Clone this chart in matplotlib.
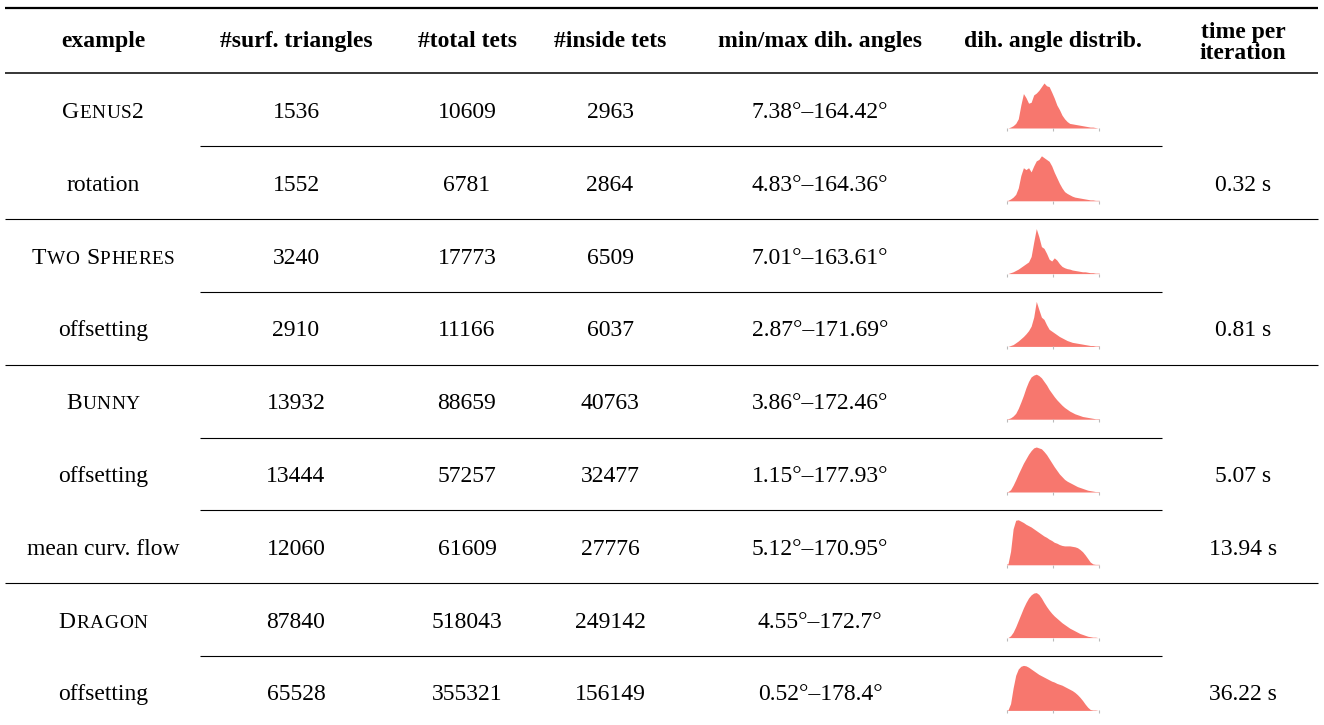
import matplotlib.pyplot as plt
from matplotlib.offsetbox import TextArea, HPacker, AnnotationBbox
import numpy as np

plt.rcParams['font.family'] = ['Liberation Serif', 'DejaVu Serif']

# table data
headers = ['example', '#surf. triangles', '#total tets', '#inside tets',
           'min/max dih. angles', 'dih. angle distrib.', 'time per\niteration']
# (text, small caps?) for the example column
examples = [('Genus2', True), ('rotation', False), ('Two Spheres', True),
            ('offsetting', False), ('Bunny', True), ('offsetting', False),
            ('mean curv. flow', False), ('Dragon', True), ('offsetting', False)]
surf_tris = [1536, 1552, 3240, 2910, 13932, 13444, 12060, 87840, 65528]
total_tets = [10609, 6781, 17773, 11166, 88659, 57257, 61609, 518043, 355321]
inside_tets = [2963, 2864, 6509, 6037, 40763, 32477, 27776, 249142, 156149]
min_angle = [7.38, 4.83, 7.01, 2.87, 3.86, 1.15, 5.12, 4.55, 0.52]
max_angle = [164.42, 164.36, 163.61, 171.69, 172.46, 177.93, 170.95, 172.7, 178.4]
iter_time = [None, 0.32, None, 0.81, None, 5.07, 13.94, None, 36.22]

# dihedral angle histograms, 36 bins of 5 degrees, heights relative to peak
hist_genus2 = [0.0, 0.02, 0.05, 0.1, 0.2, 0.5, 0.75, 0.66, 0.54, 0.56, 0.72, 0.76,
               0.82, 0.9, 0.98, 0.92, 0.9, 0.78, 0.65, 0.5, 0.4, 0.28, 0.2, 0.14,
               0.1, 0.09, 0.08, 0.07, 0.06, 0.05, 0.04, 0.03, 0.02, 0.02, 0.01, 0.0]
hist_rotation = [0.01, 0.04, 0.08, 0.14, 0.28, 0.55, 0.72, 0.68, 0.72, 0.63, 0.76, 0.87,
                 0.9, 0.98, 0.94, 0.9, 0.86, 0.76, 0.62, 0.5, 0.38, 0.28, 0.2, 0.16,
                 0.13, 0.1, 0.08, 0.07, 0.06, 0.05, 0.04, 0.03, 0.02, 0.02, 0.01, 0.01]
hist_spheres = [0.0, 0.02, 0.04, 0.07, 0.1, 0.14, 0.18, 0.22, 0.26, 0.38, 0.7, 1.0,
                0.82, 0.6, 0.56, 0.45, 0.32, 0.28, 0.35, 0.3, 0.22, 0.16, 0.13, 0.11,
                0.1, 0.08, 0.07, 0.06, 0.05, 0.04, 0.04, 0.03, 0.02, 0.02, 0.01, 0.01]
hist_spheres_off = [0.0, 0.02, 0.04, 0.08, 0.12, 0.17, 0.22, 0.28, 0.35, 0.45, 0.65, 1.0,
                    0.82, 0.65, 0.6, 0.48, 0.38, 0.34, 0.3, 0.26, 0.22, 0.19, 0.16, 0.13,
                    0.11, 0.09, 0.08, 0.07, 0.06, 0.05, 0.04, 0.03, 0.02, 0.02, 0.01, 0.01]
hist_bunny = [0.01, 0.03, 0.07, 0.13, 0.24, 0.38, 0.53, 0.7, 0.84, 0.94, 0.98, 1.0,
              0.97, 0.92, 0.84, 0.76, 0.66, 0.58, 0.5, 0.43, 0.37, 0.31, 0.26, 0.22,
              0.18, 0.15, 0.12, 0.1, 0.08, 0.06, 0.05, 0.04, 0.03, 0.02, 0.01, 0.01]
hist_bunny_off = [0.01, 0.05, 0.15, 0.27, 0.4, 0.52, 0.64, 0.74, 0.84, 0.92, 0.98, 1.0,
                  0.98, 0.96, 0.9, 0.83, 0.74, 0.65, 0.56, 0.48, 0.4, 0.34, 0.28, 0.24,
                  0.21, 0.18, 0.15, 0.12, 0.1, 0.08, 0.06, 0.04, 0.03, 0.02, 0.01, 0.01]
hist_bunny_mcf = [0.02, 0.3, 0.8, 0.99, 1.0, 0.97, 0.94, 0.9, 0.87, 0.84, 0.8, 0.76,
                  0.72, 0.68, 0.64, 0.61, 0.57, 0.54, 0.5, 0.48, 0.45, 0.43, 0.42, 0.42,
                  0.42, 0.41, 0.4, 0.38, 0.34, 0.29, 0.22, 0.14, 0.06, 0.02, 0.01, 0.01]
hist_dragon = [0.0, 0.04, 0.12, 0.24, 0.38, 0.52, 0.66, 0.78, 0.88, 0.95, 0.99, 1.0,
               0.96, 0.88, 0.78, 0.69, 0.61, 0.54, 0.48, 0.43, 0.38, 0.33, 0.29, 0.25,
               0.21, 0.18, 0.15, 0.12, 0.09, 0.07, 0.05, 0.03, 0.02, 0.01, 0.01, 0.0]
hist_dragon_off = [0.01, 0.15, 0.5, 0.78, 0.92, 0.98, 1.0, 0.99, 0.96, 0.92, 0.88, 0.84,
                   0.8, 0.77, 0.74, 0.71, 0.68, 0.65, 0.63, 0.6, 0.58, 0.56, 0.53, 0.5,
                   0.47, 0.44, 0.4, 0.35, 0.29, 0.22, 0.14, 0.07, 0.02, 0.01, 0.01, 0.0]
hists = [hist_genus2, hist_rotation, hist_spheres, hist_spheres_off, hist_bunny,
         hist_bunny_off, hist_bunny_mcf, hist_dragon, hist_dragon_off]
bin_centers = np.arange(2.5, 180, 5)

# layout (pixels)
W, H = 1324, 725
col_x = [103, 296, 467, 610, 820, 1053, 1243]
row_y = [110 + 72.8 * i for i in range(len(examples))]
full_rules = [2, 4, 7]        # rule above these rows spans whole width
FS = 17
hist_color = '#f7776e'

fig = plt.figure(figsize=(W / 100, H / 100), dpi=100)
ax = fig.add_axes([0, 0, 1, 1])
ax.set_xlim(0, W)
ax.set_ylim(H, 0)
ax.axis('off')

# rules
ax.hlines(8, 5, 1318, color='black', lw=1.6)
ax.hlines(73, 5, 1318, color='black', lw=1.1)
for i in range(1, len(examples)):
    y = (row_y[i - 1] + row_y[i]) / 2
    if i in full_rules:
        ax.hlines(y, 5, 1318, color='black', lw=0.8)
    else:
        ax.hlines(y, 200, 1162, color='black', lw=0.8)

# header
for x, h in zip(col_x, headers):
    yy = 43 if '\n' in h else 41
    ax.text(x, yy, h, ha='center', va='center', fontsize=FS, fontweight='bold',
            linespacing=0.98)


def small_caps(text, x, y):
    parts = []
    for ch in text:
        if ch.islower():
            parts.append(TextArea(ch.upper(), textprops=dict(fontsize=FS * 0.82)))
        else:
            parts.append(TextArea(ch, textprops=dict(fontsize=FS)))
    box = HPacker(children=parts, align='baseline', pad=0, sep=0.4)
    ab = AnnotationBbox(box, (x, y), xycoords='data', frameon=False,
                        box_alignment=(0.5, 0.5), pad=0)
    ax.add_artist(ab)


dy = 2.5
for i, y in enumerate(row_y):
    ty = y + dy
    name, sc = examples[i]
    if sc:
        small_caps(name, col_x[0], ty)
    else:
        ax.text(col_x[0], ty, name, ha='center', va='center', fontsize=FS)
    ax.text(col_x[1], ty, str(surf_tris[i]), ha='center', va='center', fontsize=FS)
    ax.text(col_x[2], ty, str(total_tets[i]), ha='center', va='center', fontsize=FS)
    ax.text(col_x[3], ty, str(inside_tets[i]), ha='center', va='center', fontsize=FS)
    ax.text(col_x[4], ty, f'{min_angle[i]:g}°–{max_angle[i]:g}°',
            ha='center', va='center', fontsize=FS)
    if iter_time[i] is not None:
        ax.text(col_x[6], ty, f'{iter_time[i]:g} s', ha='center', va='center', fontsize=FS)

    # small histogram
    base = y + 18
    hax = fig.add_axes([1006.7 / W, 1 - base / H, 92.6 / W, 45 / H])
    xs = np.concatenate([[0], bin_centers, [180]])
    ys = np.concatenate([[hists[i][0]], hists[i], [hists[i][-1]]])
    hax.fill_between(xs, 0, ys, color=hist_color, lw=0)
    hax.set_xlim(0, 180)
    hax.set_ylim(0, max(hists[i]) * 1.0)
    for s in hax.spines.values():
        s.set_visible(False)
    hax.set_xticks([0, 90, 180])
    hax.set_xticklabels([])
    hax.set_yticks([])
    hax.tick_params(axis='x', length=2, width=0.8, color='#bbbbbb', direction='out')
    hax.patch.set_alpha(0)

fig.savefig('out.png', dpi=100)
